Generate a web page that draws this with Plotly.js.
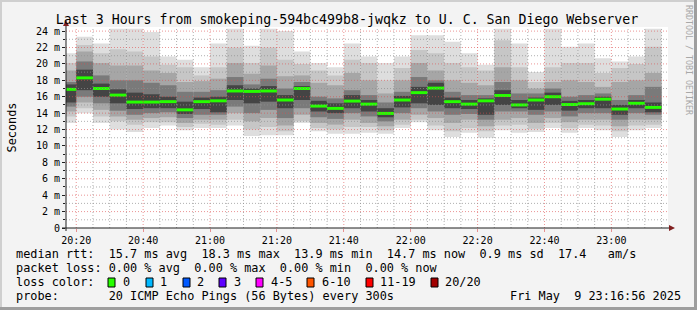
<!DOCTYPE html>
<html><head><meta charset="utf-8">
<script src="https://cdn.plot.ly/plotly-3.0.1.min.js"></script>
<style>html,body{margin:0;padding:0;background:#f3f3f3;}#chart{width:697px;height:310px;}</style>
</head><body><div id="chart"></div>
<script>
// ---------- data ----------
const day = '2025-05-09 ';
const rangeStart = '20:16:56';
const rangeEnd = '23:16:56';
// end time of each 5-minute step
const binEnds = ['20:20','20:25','20:30','20:35','20:40','20:45','20:50','20:55','21:00','21:05','21:10','21:15',
  '21:20','21:25','21:30','21:35','21:40','21:45','21:50','21:55','22:00','22:05','22:10','22:15',
  '22:20','22:25','22:30','22:35','22:40','22:45','22:50','22:55','23:00','23:05','23:10','23:15'];
// ms
const pingMax = [21.3,23.3,22.5,24.3,24.3,23.9,20.9,20.5,19.6,22.5,24.3,22.2,24.3,24.0,21.5,20.1,19.6,22.5,20.9,20.1,20.9,23.5,23.5,22.7,21.3,19.9,24.3,22.5,19.0,24.3,22.1,22.5,20.7,20.3,20.9,24.3];
const hi2 = [20.1,22.3,21.3,21.8,21.5,20.9,19.9,19.6,18.6,19.6,22.0,20.1,22.0,20.5,20.0,19.2,18.6,20.5,20.1,18.0,19.5,21.7,21.3,20.1,19.6,19.2,22.9,19.6,17.8,19.6,20.1,20.1,18.9,19.5,20.0,22.1];
const hi3 = [19.2,21.5,20.1,19.8,19.8,19.2,18.9,17.8,17.9,18.2,20.1,18.8,19.8,18.5,18.6,17.7,17.4,18.9,18.0,16.4,18.0,20.1,19.2,18.0,17.7,17.4,19.6,18.0,17.0,17.8,18.0,17.8,17.2,17.8,18.0,18.9];
const hi4 = [17.8,20.3,18.6,18.0,18.0,17.7,17.4,16.6,16.6,16.8,18.4,17.5,18.2,17.0,17.8,16.0,15.8,16.8,16.2,15.3,16.6,18.4,18.0,16.6,16.2,16.2,17.8,16.4,16.4,17.0,16.0,16.2,16.4,15.6,16.2,17.2];
const hi5 = [17.5,19.3,17.6,16.9,16.5,16.3,16.0,15.4,15.9,16.0,17.4,17.0,17.3,16.2,17.3,15.5,15.2,16.2,15.6,14.6,16.1,17.2,17.7,15.9,15.6,15.8,16.8,15.6,15.9,16.5,15.5,15.6,16.0,15.0,15.6,15.3];
const median = [16.9,18.3,17.0,16.2,15.35,15.35,15.4,14.4,15.4,15.5,16.7,16.65,16.7,15.6,17.0,14.86,14.58,15.47,15.1,13.97,15.6,16.5,17.05,15.4,15.1,15.5,16.15,15.0,15.6,16.0,15.05,15.15,15.7,14.5,15.2,14.7];
const lo5 = [15.3,16.8,16.0,15.2,14.5,14.6,14.6,13.9,14.5,14.1,15.6,15.2,15.4,14.6,15.6,14.2,14.0,14.6,14.2,13.5,14.7,15.2,15.0,14.6,14.5,13.8,15.0,14.6,14.4,15.0,14.3,14.6,14.6,13.8,14.6,14.1];
const lo4 = [14.8,16.0,15.2,14.3,13.8,14.0,14.1,13.4,13.8,13.8,14.8,14.0,14.4,13.4,14.6,13.5,13.3,14.0,13.6,13.0,14.0,14.6,14.2,13.8,13.9,13.2,14.2,14.2,13.8,14.2,13.6,14.0,14.0,13.2,14.0,13.8];
const lo3 = [14.2,15.3,14.4,13.6,13.2,13.4,13.5,12.8,13.2,13.2,14.0,13.0,13.4,12.5,13.8,12.8,12.6,13.2,12.8,12.4,13.2,13.8,13.4,12.8,13.2,12.4,13.2,13.4,12.8,13.4,12.9,13.2,13.2,12.4,13.2,13.2];
const lo2 = [13.6,14.6,13.6,13.0,12.6,12.9,12.9,12.3,12.7,12.6,13.2,12.0,12.3,11.8,13.0,12.2,12.0,12.3,12.3,11.9,12.6,13.2,12.5,11.8,12.2,11.8,12.5,12.6,12.1,12.8,12.2,12.6,12.5,11.8,12.5,12.6];
const pingMin = [12.8,14.0,12.8,12.0,11.7,12.2,12.5,11.9,12.2,12.2,12.5,11.2,11.3,11.3,12.8,11.8,11.5,11.5,11.6,11.5,12.2,12.9,11.9,11.1,11.6,11.0,11.9,11.6,11.7,12.2,11.6,12.2,11.9,11.1,11.9,12.2];
const xTickTimes = ['20:20','20:40','21:00','21:20','21:40','22:00','22:20','22:40','23:00'];
const xTickLabels = ['20:20','20:40','21:00','21:20','21:40','22:00','22:20','22:40','23:00'];
const yTickVals = [0,2,4,6,8,10,12,14,16,18,20,22,24];
const yTickLabels = ['0','2 m','4 m','6 m','8 m','10 m','12 m','14 m','16 m','18 m','20 m','22 m','24 m'];
const yMinorVals = [1,3,5,7,9,11,13,15,17,19,21,23];
const lossLabels = ['0','1','2','3','4-5','6-10','11-19','20/20'];
const lossColors = ['#26ff00','#00b8ff','#0059ff','#5e00ff','#ff00ff','#ff5500','#ff0000','#a10000'];
const titleText = 'Last 3 Hours from smokeping-594bc499b8-jwqkz to U. C. San Diego Webserver';
const legendLines = [
  'median rtt:  15.7 ms avg  18.3 ms max  13.9 ms min  14.7 ms now  0.9 ms sd  17.4   am/s',
  'packet loss: 0.00 % avg  0.00 % max  0.00 % min  0.00 % now',
  'loss color:',
  'probe:       20 ICMP Echo Pings (56 Bytes) every 300s'
];
const dateStamp = 'Fri May  9 23:16:56 2025';
const credit = 'RRDTOOL / TOBI OETIKER';

// ---------- layout helpers ----------
const W = 697, H = 310, L = 66, R = 668, T = 27, B = 228;
const px = x => (x - L) / (R - L);
const py = y => (B - y) / (B - T);
const MONO = 'DejaVu Sans Mono, monospace';
const nb = s => s.replace(/ /g, '\u00a0');
const BIN = 300000;
const xs = binEnds.map(t => day + t);

const traces = [];
const bands = [
  [pingMin, pingMax, '#dedede'],
  [lo2, hi2, '#c6c6c6'],
  [lo3, hi3, '#a6a6a6'],
  [lo4, hi4, '#7a7a7a'],
  [lo5, hi5, '#444444']
];
bands.forEach(([lo, hi, c]) => {
  traces.push({type:'bar', x: xs, base: lo, y: hi.map((h, i) => h - lo[i]),
    width: BIN, offset: -BIN, marker:{color: c, line:{width:0}}, hoverinfo:'skip', showlegend:false});
});
const MED_H = 0.36;
traces.push({type:'bar', x: xs, base: median.map(m => m - MED_H/2), y: median.map(() => MED_H),
  width: BIN, offset: -BIN, marker:{color: lossColors[0], line:{width:0}}, hoverinfo:'skip', showlegend:false});

const shapes = [];
const GRID = 'rgba(143,143,143,0.7)', MGRID = 'rgba(222,79,79,0.6)';
binEnds.forEach(t => {
  const major = xTickTimes.includes(t);
  shapes.push({type:'line', layer:'above', xref:'x', yref:'paper', x0: day+t, x1: day+t, y0:0, y1:1,
    line:{color: major ? MGRID : GRID, width:1, dash:'1px,2px'}});
});
yMinorVals.forEach(v => shapes.push({type:'line', layer:'above', xref:'paper', yref:'y', x0:0, x1:1, y0:v, y1:v,
  line:{color: GRID, width:1, dash:'1px,2px'}}));
yTickVals.filter(v => v > 0).forEach(v => shapes.push({type:'line', layer:'above', xref:'paper', yref:'y', x0:0, x1:1, y0:v, y1:v,
  line:{color: MGRID, width:1, dash:'1px,2px'}}));
// axes
const AX = '#1f1f1f', ARROW = '#801f1f';
shapes.push({type:'line', layer:'above', xref:'paper', yref:'paper', x0:px(62), x1:px(671), y0:py(228), y1:py(228), line:{color:AX, width:1}});
shapes.push({type:'line', layer:'above', xref:'paper', yref:'paper', x0:px(66), x1:px(66), y0:py(231), y1:py(24), line:{color:AX, width:1}});
shapes.push({type:'path', layer:'above', xref:'paper', yref:'paper',
  path:`M ${px(669)} ${py(225)} L ${px(675)} ${py(228)} L ${px(669)} ${py(231)} Z`, fillcolor:ARROW, line:{width:0}});
shapes.push({type:'path', layer:'above', xref:'paper', yref:'paper',
  path:`M ${px(63)} ${py(26)} L ${px(66)} ${py(20)} L ${px(69)} ${py(26)} Z`, fillcolor:ARROW, line:{width:0}});
// frame shading
const rect = (x0,y0,x1,y1,c) => shapes.push({type:'rect', layer:'below', xref:'paper', yref:'paper', x0:px(x0), x1:px(x1), y0:py(y0), y1:py(y1), fillcolor:c, line:{width:0}});
rect(0,0,697,2,'#cfcfcf'); rect(0,0,2,310,'#cfcfcf');
rect(694,0,697,310,'#9e9e9e'); rect(0,307,697,310,'#9e9e9e');

// legend boxes
const boxX = [108,146,183,219,256,307,366,431];
const labX = [123,160,197,234,271,322,380,445];
boxX.forEach((bx, i) => shapes.push({type:'rect', layer:'above', xref:'paper', yref:'paper',
  x0:px(bx), x1:px(bx+7), y0:py(278), y1:py(287), fillcolor:lossColors[i], line:{color:'#000', width:1}}));

const annotations = [];
const txt = (x, y, s, opts={}) => annotations.push(Object.assign({xref:'paper', yref:'paper', x:px(x), y:py(y),
  xanchor:'left', yanchor:'middle', showarrow:false, text:nb(s), font:{family:MONO, size:11.85, color:'#000'}, borderpad:0, borderwidth:0}, opts));
txt(16, 254, legendLines[0]);
txt(16, 268, legendLines[1]);
txt(16, 282, legendLines[2]);
lossLabels.forEach((l, i) => txt(labX[i], 282, l));
txt(16, 296, legendLines[3]);
txt(681, 296, dateStamp, {xanchor:'right'});
txt(11, 127.5, 'Seconds', {xanchor:'center', textangle:-90});
txt(689, 60, credit, {xanchor:'center', textangle:90, font:{family:MONO, size:8.3, color:'#a8a8a8'}});

const layout = {
  width: W, height: H,
  margin: {l: L, r: W - R, t: T, b: H - B, pad: 0},
  paper_bgcolor: '#f3f3f3', plot_bgcolor: '#ffffff',
  barmode: 'overlay', showlegend: false,
  title: {text: titleText, font:{family:MONO, size:13.25, color:'#000'}, x: 347/W, xanchor:'center', xref:'container',
    y: 1 - 19/H, yanchor:'middle', yref:'container'},
  xaxis: {type:'date', range:[day+rangeStart, day+rangeEnd], tickmode:'array',
    tickvals: xTickTimes.map(t => day+t), ticktext: xTickLabels,
    showgrid:false, zeroline:false, showline:false, ticks:'outside', ticklen:3, tickwidth:1, tickcolor:MGRID,
    tickfont:{family:MONO, size:10, color:'#000'}, fixedrange:true},
  yaxis: {range:[0, 24.5], tickmode:'array', tickvals: yTickVals, ticktext: yTickLabels,
    showgrid:false, zeroline:false, showline:false, ticks:'outside', ticklen:3, tickwidth:1, tickcolor:AX,
    minor:{tickvals: yMinorVals, ticks:'outside', ticklen:2, tickcolor:AX, showgrid:false},
    tickfont:{family:MONO, size:10, color:'#000'}, fixedrange:true},
  shapes, annotations
};
Plotly.newPlot('chart', traces, layout, {displayModeBar:false, staticPlot:true});
</script></body></html>
